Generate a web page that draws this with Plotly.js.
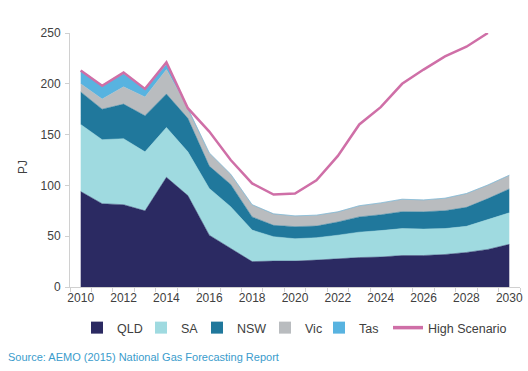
<!DOCTYPE html>
<html>
<head>
<meta charset="utf-8">
<script src="https://cdn.plot.ly/plotly-3.0.1.min.js"></script>
<style>
html,body{margin:0;padding:0;background:#fff;}
#chart{width:528px;height:371px;}
</style>
</head>
<body>
<div id="chart"></div>
<script>
const years = [2010,2011,2012,2013,2014,2015,2016,2017,2018,2019,2020,2021,2022,2023,2024,2025,2026,2027,2028,2029,2030];
const qld = [94,82,81,75,108,90,51,38,25,25.5,25.5,26.5,28,29,29.5,31,31,32,34,37,42];
const sa  = [66,63,65,58,49,43,46,41,31,24,22,22,23,25,26,26.5,26,25.5,25.7,29,31];
const nsw = [32,30,34,35.6,33,33,22,22,13,11.2,11.9,11.5,13,15,15.6,16.6,17,17.6,18.7,21,23.5];
const vic = [8,10,17,18.4,24,10,13,10,12,11.3,10.6,10.7,10,11,11.7,12.3,11.7,12.3,13.6,13.4,13.5];
const tas = [12.6,13,13,8,5,0,0,0,0,0,0,0,0,0,0,0,0,0,0,0,0];
const high = [213,198,211,195,221,176,153,125,102,91,92,105,129,160,177,200,214,227,236.5,250,null];
const xTickLabels = ['2010','2012','2014','2016','2018','2020','2022','2024','2026','2028','2030'];
const xTickVals = xTickLabels.map(Number);

const names = ['QLD','SA','NSW','Vic','Tas'];
const series = [qld, sa, nsw, vic, tas];
const colors = ['#2b2a62','#9fdae0','#20789c','#b9bcbf','#58b3e0'];
const highColor = '#cf6fa7';
const font = 'Liberation Sans, Arial, sans-serif';

// legend entry left positions (px from page left)
const legendLeftPx = [77, 141, 197, 265, 319, 388];
const plotL = 70, plotW = 450, plotB = 287, plotH = 254;

const traces = [];
series.forEach((s,i)=>{
  traces.push({
    x: years, y: s, type:'scatter', mode:'lines', stackgroup:'one',
    line:{width:0.5,color:colors[i]}, fillcolor:colors[i],
    name:names[i], showlegend:false, hoverinfo:'skip'
  });
});
traces.push({
  x: years, y: high, type:'scatter', mode:'lines',
  line:{width:2.5,color:highColor}, name:'High Scenario', showlegend:false
});
const legendIds = ['legend','legend2','legend3','legend4','legend5','legend6'];
series.forEach((s,i)=>{
  traces.push({
    x:[null], y:[null], type:'scatter', mode:'markers',
    marker:{symbol:'square', size:12, color:colors[i]}, name:names[i],
    legend: legendIds[i]
  });
});
traces.push({
  x:[null], y:[null], type:'scatter', mode:'lines',
  line:{width:3.5,color:highColor}, name:'High Scenario', legend: legendIds[5]
});

const layout = {
  width:528, height:371,
  margin:{l:plotL, r:8, t:33, b:84},
  paper_bgcolor:'#fff', plot_bgcolor:'#fff',
  font:{family:font, size:12, color:'#404040'},
  showlegend:true,
  xaxis:{
    range:[2009.5,2030.5], tickmode:'array', tickvals:xTickVals, ticktext:xTickLabels,
    ticks:'', showgrid:false, zeroline:false, showline:true, linecolor:'#d0d0d0', linewidth:1,
    tickfont:{family:font, size:12, color:'#404040'},
    minor:{tick0:2009.5, dtick:1, ticks:'outside', ticklen:4, tickcolor:'#d0d0d0', showgrid:false}
  },
  yaxis:{
    range:[0,250], dtick:50, tick0:0, ticks:'outside', ticklen:4, tickcolor:'#d0d0d0',
    showgrid:false, zeroline:false, showline:true, linecolor:'#d0d0d0', linewidth:1,
    tickfont:{family:font, size:12, color:'#404040'}, ticklabelstandoff:2
  },
  annotations:[{
    xref:'paper', yref:'paper', x:(6-plotL)/plotW, y:(plotB-357)/plotH, xanchor:'left', yanchor:'middle',
    text:'Source: AEMO (2015) National Gas Forecasting Report', showarrow:false,
    font:{family:font, size:11, color:'#3a9ccc'}
  },{
    xref:'paper', yref:'paper', x:(22.5-plotL)/plotW, y:(plotB-167.5)/plotH, xanchor:'center', yanchor:'middle',
    text:'PJ', textangle:-90, showarrow:false,
    font:{family:font, size:12, color:'#404040'}
  }]
};
legendIds.forEach((id,i)=>{
  layout[id] = {
    orientation:'h', x:(legendLeftPx[i]-plotL)/plotW, xanchor:'left',
    y:(plotB-328)/plotH, yanchor:'middle', bgcolor:'rgba(0,0,0,0)', borderwidth:0,
    font:{family:font, size:12.5, color:'#404040'}, itemwidth:30
  };
});

Plotly.newPlot('chart', traces, layout, {staticPlot:true, displayModeBar:false});
</script>
</body>
</html>
